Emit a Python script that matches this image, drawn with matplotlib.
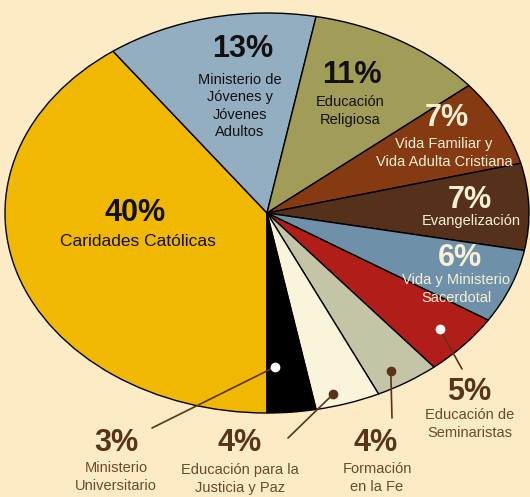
import numpy as np
import matplotlib
matplotlib.use('Agg')
import matplotlib.pyplot as plt

# slices, clockwise from the bottom
names = ['Caridades Católicas', 'Ministerio de\nJóvenes y\nJóvenes\nAdultos',
         'Educación\nReligiosa', 'Vida Familiar y\nVida Adulta Cristiana',
         'Evangelización', 'Vida y Ministerio\nSacerdotal',
         'Educación de\nSeminaristas', 'Formación\nen la Fe',
         'Educación para la\nJusticia y Paz', 'Ministerio\nUniversitario']
shares = [40, 13, 11, 7, 7, 6, 5, 4, 4, 3]
colors = ['#F0B800', '#93AEC1', '#A19C57', '#853A12', '#55301A',
          '#6E90A8', '#B11E1A', '#C4C5A6', '#FAF4DA', '#000000']

W, H = 530, 497
cx, cy, rx, ry = 267, 213, 262, 200
bg = '#FCEBC5'
brown = '#5A3418'
cream = '#F7F0D5'

plt.rcParams['font.family'] = ['Liberation Sans', 'DejaVu Sans']

fig = plt.figure(figsize=(W / 100, H / 100), dpi=100)
fig.patch.set_facecolor(bg)
ax = fig.add_axes([0, 0, 1, 1])
ax.set_facecolor(bg)

wedges, _ = ax.pie(shares, colors=colors, startangle=270, counterclock=False,
                   wedgeprops=dict(edgecolor='black', linewidth=1.0))
ax.set_aspect('auto')
ax.set_xlim(-cx / rx, (W - cx) / rx)
ax.set_ylim((cy - H) / ry, cy / ry)
ax.axis('off')


def px(x, y):
    # pixel position -> data position
    return (x - cx) / rx, (cy - y) / ry


def mid(i, r, shift=0):
    w = wedges[i]
    a = np.deg2rad((w.theta1 + w.theta2) / 2 + shift)
    return r * np.cos(a), r * np.sin(a)


# labels inside the pie: (index, pct pos, name pos, colour, name size)
inside = [
    (0, (135, 213), (138, 241), '#111111', 12.5),
    (1, (243, 49), (240, 106), '#111111', 10.5),
    (2, (352, 75), (350, 111), '#111111', 10.5),
    (3, (447, 118), (444, 153), cream, 10.5),
    (4, (470, 200), (471, 221), cream, 10.5),
    (5, (460, 258), (456, 289), cream, 10.5),
]
for i, p, q, c, fs in inside:
    ax.text(*px(*p), f'{shares[i]}%', ha='center', va='center',
            fontsize=22, fontweight='bold', color=c)
    ax.text(*px(*q), names[i], ha='center', va='center', fontsize=fs,
            color=c, linespacing=1.3)

# labels outside with leader lines:
# (index, dot radius, angle shift, dot colour, line end, pct pos, name pos)
outside = [
    (6, 0.88, 0.0, 'white', (462, 369), (469, 392), (470, 424)),
    (7, 0.92, -1.5, brown, (392, 418), (376, 443), (377, 478)),
    (8, 0.94, -2.4, brown, (288, 438), (240, 443), (240, 479)),
    (9, 0.77, -3.1, 'white', (152, 428), (116, 443), (116, 477)),
]
for i, r, s, dc, end, p, q in outside:
    d = mid(i, r, s)
    ax.annotate('', xy=d, xytext=px(*end),
                arrowprops=dict(arrowstyle='-', color=brown, lw=1.2,
                                shrinkA=0, shrinkB=0))
    ax.plot(*d, 'o', color=dc, markersize=6, zorder=5)
    ax.text(*px(*p), f'{shares[i]}%', ha='center', va='center',
            fontsize=22, fontweight='bold', color=brown)
    ax.text(*px(*q), names[i], ha='center', va='center', fontsize=10.5,
            color='#6B4A30', linespacing=1.3)

fig.savefig('out.png', dpi=100, facecolor=bg)
